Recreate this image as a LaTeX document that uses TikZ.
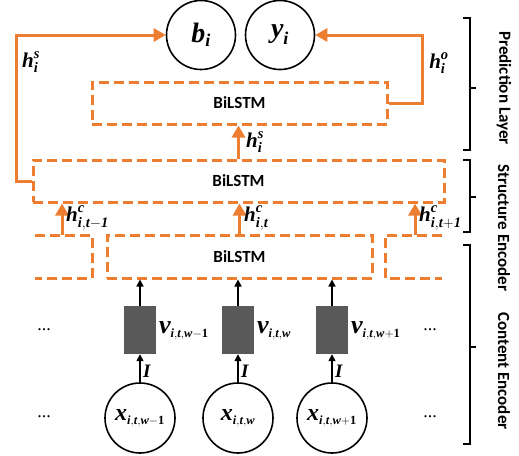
\documentclass[tikz,border=0pt]{standalone}
\usepackage{fontspec}
\usepackage{amsmath}
\setmainfont{Carlito}
\newfontfamily\tnr{Liberation Serif}
\usetikzlibrary{arrows.meta}
\definecolor{org}{RGB}{237,125,49}
\definecolor{gbox}{RGB}{89,89,89}
\DeclareMathSizes{21}{21}{14.5}{11}
\DeclareMathSizes{28}{28}{18}{14}
\DeclareMathSizes{24}{24}{12.5}{10}
\DeclareMathSizes{26}{26}{12.5}{10}
\DeclareMathSizes{19}{19}{13}{10}
\newcommand\fsz[1]{\fontsize{#1}{#1}\selectfont}
\newcommand\bim{\tnr\bfseries\itshape}
\newcommand\I[1]{\text{\bim #1}}
\begin{document}
\begin{tikzpicture}[x=1pt,y=-1pt,
  dbox/.style={draw=org, line width=3pt, dash pattern=on 10pt off 5pt},
  oarr/.style={draw=org, line width=3pt, -{Triangle[length=12pt,width=13pt]}},
  barr/.style={draw=black, line width=1.5pt, -{Triangle[length=7pt,width=7pt]}},
  circ/.style={circle, draw, line width=1.6pt, minimum size=69pt, inner sep=0pt},
  grayrect/.style={fill=gbox, minimum width=32pt, minimum height=48pt, inner sep=0pt},
  lstm/.style={font=\fsz{17}\bfseries},
  lab/.style={font=\fsz{21}, inner sep=0pt},
  side/.style={font=\fsz{17}\bfseries, rotate=-90, inner sep=0pt},
  brk/.style={line width=1.5pt},
  dots/.style={font=\fsz{18}\tnr, inner sep=0pt}
]
\useasboundingbox (0,0) rectangle (519,455);

% top circles
\node[circ, font=\fsz{28}] (b) at (201,35) {$\I{b}_{\I{i}}$};
\node[circ, font=\fsz{28}] (y) at (280,35) {$\I{y}_{\I{i}}$};

% BiLSTM boxes
\node[dbox, lstm, minimum width=295pt, minimum height=42pt, inner sep=0pt] (pred) at (239.5,103) {BiLSTM};
\node[dbox, lstm, minimum width=411pt, minimum height=42pt, inner sep=0pt] (struct) at (238.5,181) {BiLSTM};
\node[dbox, lstm, minimum width=265pt, minimum height=43pt, inner sep=0pt] (content) at (239.5,256.5) {BiLSTM};

% partial boxes
\draw[dbox] (35,235) -- (92,235) -- (92,278) -- (35,278);
\draw[dbox] (442,235) -- (385,235) -- (385,278) -- (442,278);

% orange connectors
\draw[oarr] (pred.east) -- (422,103) |- (y.east);
\draw[oarr] (struct.west) -- (16,181) |- (b.west);
\draw[oarr] (struct.north) -- (struct.north |- pred.south);
\coordinate (c1) at (62,235);
\coordinate (c3) at (415,235);
\draw[oarr] (c1) -- (c1 |- struct.south);
\draw[oarr] (content.north) -- (content.north |- struct.south);
\draw[oarr] (c3) -- (c3 |- struct.south);

% orange labels
\node[lab] (lhs1) at (31,62) {$\I{h}^{\I{s}}_{\I{i}}$};
\node[lab] (lho) at (439,63) {$\I{h}^{\I{o}}_{\I{i}}$};
\node[lab, anchor=west] (lhs2) at (246,142) {$\I{h}^{\I{s}}_{\I{i}}$};
\node[lab, anchor=west] (lhc1) at (66,218) {$\I{h}^{\I{c}}_{\I{i},\I{t}-\I{1}}$};
\node[lab, anchor=west] (lhc2) at (244,218) {$\I{h}^{\I{c}}_{\I{i},\I{t}}$};
\node[lab, anchor=west] (lhc3) at (419,218) {$\I{h}^{\I{c}}_{\I{i},\I{t}+\I{1}}$};

% gray boxes
\node[grayrect] (g1) at (140,330) {};
\node[grayrect] (g2) at (238,330) {};
\node[grayrect] (g3) at (332,330) {};

% input circles
\node[circ, minimum size=70pt, font=\fsz{24}] (x1) at (140,418) {$\I{x}_{\I{i},\I{t},\I{w}-\text{\tnr\bfseries 1}}$};
\node[circ, minimum size=70pt, font=\fsz{24}] (x2) at (238,418) {$\I{x}_{\I{i},\I{t},\I{w}}$};
\node[circ, minimum size=70pt, font=\fsz{24}] (x3) at (332,418) {$\I{x}_{\I{i},\I{t},\I{w}+\text{\tnr\bfseries 1}}$};

% black arrows
\draw[barr] (g1.north) -- (g1.north |- content.south);
\draw[barr] (g2.north) -- (g2.north |- content.south);
\draw[barr] (g3.north) -- (g3.north |- content.south);
\draw[barr] (x1.north) -- (g1.south);
\draw[barr] (x2.north) -- (g2.south);
\draw[barr] (x3.north) -- (g3.south);

% I labels
\node[lab, anchor=west, font=\fsz{19}] (i1) at (143,371) {$\I{I}$};
\node[lab, anchor=west, font=\fsz{19}] (i2) at (241,371) {$\I{I}$};
\node[lab, anchor=west, font=\fsz{19}] (i3) at (335,371) {$\I{I}$};

% v labels
\node[lab, anchor=west, font=\fsz{26}] (v1) at (159,331) {$\I{v}_{\I{i},\I{t},\I{w}-\text{\tnr\bfseries 1}}$};
\node[lab, anchor=west, font=\fsz{26}] (v2) at (257,331) {$\I{v}_{\I{i},\I{t},\I{w}}$};
\node[lab, anchor=west, font=\fsz{26}] (v3) at (351,331) {$\I{v}_{\I{i},\I{t},\I{w}+\text{\tnr\bfseries 1}}$};

% dots
\node[dots] (d1) at (44,330) {...};
\node[dots] (d2) at (44,417) {...};
\node[dots] (d3) at (430,330) {...};
\node[dots] (d4) at (430,417) {...};

% brackets
\draw[brk] (463,18) -- (470,18) -- (470,150) -- (463,150);
\draw[brk] (470,88) -- (476,88);
\draw[brk] (463,160) -- (470,160) -- (470,232) -- (463,232);
\draw[brk] (470,197) -- (476,197);
\draw[brk] (463,245) -- (470,245) -- (470,444) -- (463,444);
\draw[brk] (470,347) -- (476,347);

% side labels
\node[side] (s1) at (504,88) {Prediction Layer};
\node[side] (s2) at (504,228) {Structure Encoder};
\node[side] (s3) at (504,371) {Content Encoder};
\end{tikzpicture}
\end{document}
